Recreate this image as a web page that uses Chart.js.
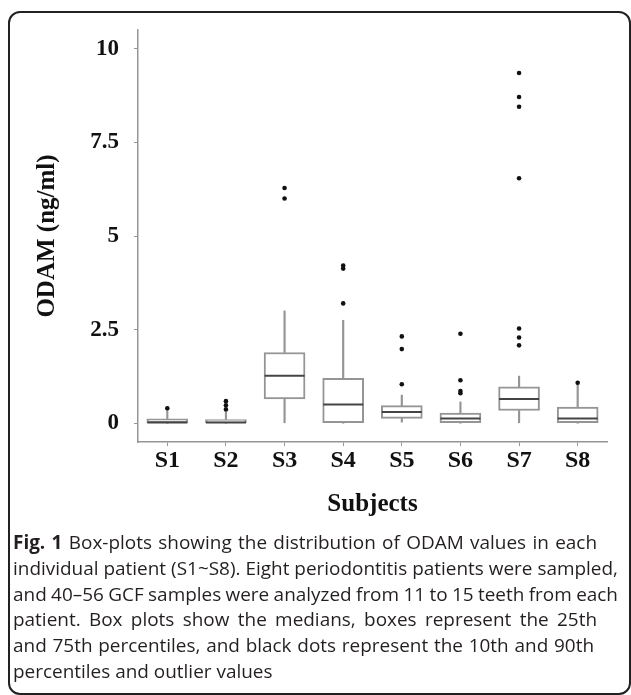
<!DOCTYPE html>
<html><head><meta charset="utf-8">
<script src="https://cdn.jsdelivr.net/npm/chart.js@4.4.1/dist/chart.umd.min.js"></script>
<style>
html,body{margin:0;padding:0;background:#fff;}
body{width:631px;height:695px;position:relative;overflow:hidden;}
#frame{position:absolute;left:8px;top:11px;width:623px;height:684px;border:2px solid #222;border-radius:12px;box-sizing:border-box;z-index:2;pointer-events:none;}
#wrap{position:absolute;left:0;top:0;width:631px;height:695px;}
#cap{position:absolute;left:13px;top:530px;font-family:'Open Sans',sans-serif;font-size:17px;line-height:25.8px;color:#231f20;z-index:3;}
#cap div{white-space:nowrap;}
</style></head>
<body>
<div id="wrap"><canvas id="c" width="631" height="695"></canvas></div>
<div id="frame"></div>
<div id="cap">
<div class="l" data-w="584"><b>Fig. 1</b> Box-plots showing the distribution of ODAM values in each</div>
<div class="l" data-w="605" id="ref">individual patient (S1~S8). Eight periodontitis patients were sampled,</div>
<div class="l" data-w="605">and 40–56 GCF samples were analyzed from 11 to 15 teeth from each</div>
<div class="l" data-w="584">patient. Box plots show the medians, boxes represent the 25th</div>
<div class="l" data-w="581">and 75th percentiles, and black dots represent the 10th and 90th</div>
<div>percentiles and outlier values</div>
</div>
<script>
// ---- data ----
const categories = ['S1','S2','S3','S4','S5','S6','S7','S8'];
const whiskerLow  = [0,    0,    0,    0,    0.03, 0,    0,    0];
const q1          = [0,    0,    0.65, 0,    0.13, 0,    0.34, 0];
const medians     = [0.02, 0.02, 1.27, 0.5,  0.3,  0.13, 0.65, 0.13];
const q3          = [0.12, 0.1,  1.89, 1.2,  0.47, 0.27, 0.97, 0.43];
const whiskerHigh = [0.4,  0.3,  3.0,  2.75, 0.75, 0.57, 1.26, 1.08];
const outliers = {
  S1: [0.4],
  S2: [0.37, 0.48, 0.59],
  S3: [6.0, 6.28],
  S4: [3.2, 4.13, 4.21],
  S5: [1.04, 1.98, 2.32],
  S6: [0.8, 0.86, 1.15, 2.39],
  S7: [2.08, 2.29, 2.53, 6.54, 8.45, 8.71, 9.35],
  S8: [1.08]
};
const yTickValues = [0, 2.5, 5, 7.5, 10];
const yTickLabels = ['0', '2.5', '5', '7.5', '10'];

// ---- caption sizing / justification ----
(function(){
  const cap = document.getElementById('cap');
  const measure = el => { const r = document.createRange(); r.selectNodeContents(el); return r.getBoundingClientRect().width; };
  const refEl = document.getElementById('ref');
  const w0 = measure(refEl);
  const fs = 17 * (+refEl.dataset.w) / w0;
  cap.style.fontSize = fs + 'px';
  document.querySelectorAll('#cap .l').forEach(el => {
    const target = +el.dataset.w;
    const spaces = (el.textContent.match(/ /g) || []).length;
    const w = measure(el);
    el.style.wordSpacing = ((target - w) / spaces) + 'px';
  });
})();

const serif = "'Liberation Serif','Times New Roman',serif";
const gray = '#959595';

const lowWhisk = categories.map((c,i)=>[whiskerLow[i], q1[i]]);
const highWhisk = categories.map((c,i)=>[q3[i], whiskerHigh[i]]);
const boxes = categories.map((c,i)=>[q1[i], q3[i]]);
const medPts = categories.map((c,i)=>({x:c, y:medians[i]}));
const outPts = [];
categories.forEach(c => (outliers[c]||[]).forEach(v => outPts.push({x:c, y:v})));

new Chart(document.getElementById('c'), {
  type: 'bar',
  data: {
    labels: categories,
    datasets: [
      {data: lowWhisk, grouped:false, barThickness:1.5, backgroundColor:gray, borderWidth:0, order:5},
      {data: highWhisk, grouped:false, barThickness:1.5, backgroundColor:gray, borderWidth:0, order:4},
      {data: boxes, grouped:false, barThickness:41, backgroundColor:'#fff', borderColor:gray, borderWidth:2, borderSkipped:false, order:3},
      {type:'line', data: medPts, showLine:false, pointStyle:'line', pointRadius:20, borderColor:'#444', borderWidth:2, order:2},
      {type:'line', data: outPts, showLine:false, pointStyle:'circle', pointRadius:2.3, backgroundColor:'#111', borderColor:'#111', borderWidth:0, order:1}
    ]
  },
  options: {
    responsive:false, animation:false, devicePixelRatio:1,
    layout:{padding:{left:20, top:30, right:24, bottom:0}},
    plugins:{legend:{display:false}, tooltip:{enabled:false}},
    scales:{
      x:{
        offset:true,
        grid:{offset:false, drawOnChartArea:false, drawTicks:true, tickLength:4, color:gray, tickWidth:1},
        border:{display:true, color:gray, width:1.5},
        ticks:{color:'#111', font:{family:serif, size:24, weight:'bold', lineHeight:1}, padding:3, maxRotation:0},
        title:{display:true, text:'Subjects', color:'#111', font:{family:serif, size:25, weight:'bold', lineHeight:1.2}, padding:{top:0, bottom:175}},
        afterFit(s){ s.height = 695 - 442; }
      },
      y:{
        min:-0.5, max:10.5,
        grid:{drawOnChartArea:false, drawTicks:true, tickLength:4, color:gray, tickWidth:1},
        border:{display:true, color:gray, width:1.5},
        afterBuildTicks(s){ s.ticks = yTickValues.map(v=>({value:v})); },
        ticks:{color:'#111', font:{family:serif, size:23, weight:'bold'}, padding:15,
          callback:(v,i)=>yTickLabels[i]},
        title:{display:true, text:'ODAM (ng/ml)', color:'#111', font:{family:serif, size:25, weight:'bold', lineHeight:1.2}, padding:{top:13, bottom:0}},
        afterFit(s){ s.width = 138 - 20; }
      }
    }
  }
});
</script>
</body></html>
